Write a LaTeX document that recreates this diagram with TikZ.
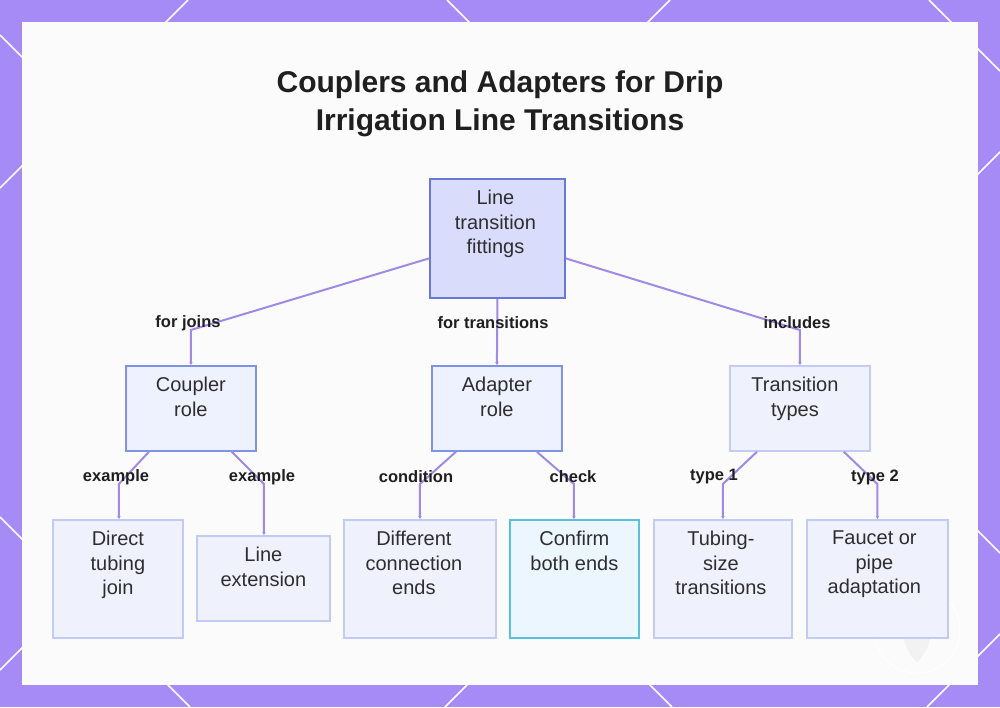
\documentclass[tikz,border=0pt]{standalone}
\usepackage{fontspec}
\setmainfont{Liberation Sans}
\usetikzlibrary{arrows.meta}
\definecolor{bgpurple}{HTML}{A68BF7}
\definecolor{panel}{HTML}{FBFBFB}
\definecolor{edgec}{HTML}{A08AE6}
\definecolor{rootfill}{HTML}{D9DCFB}
\definecolor{rootdraw}{HTML}{6A78D8}
\definecolor{midfill}{HTML}{EEF1FE}
\definecolor{middraw}{HTML}{7E92E6}
\definecolor{lightdraw}{HTML}{C3CAF3}
\definecolor{leaffill}{HTML}{EFF1FD}
\definecolor{cyandraw}{HTML}{5BC0DE}
\definecolor{cyanfill}{HTML}{EBF6FE}
\definecolor{txt}{HTML}{2E2E2E}
\definecolor{lbl}{HTML}{1F1F1F}
\tikzset{
  box/.style={rectangle, line width=1.8pt, inner sep=0pt, anchor=north west},
  rootbox/.style={box, draw=rootdraw, fill=rootfill},
  midbox/.style={box, draw=middraw, fill=midfill},
  lightbox/.style={box, draw=lightdraw, fill=leaffill},
  cyanbox/.style={box, draw=cyandraw, fill=cyanfill},
  boxtext/.style={anchor=north, inner sep=0pt, align=center, text=txt,
    font=\fontsize{20}{24.5}\selectfont},
  elabel/.style={inner sep=0pt, text=lbl, font=\fontsize{16.5}{20}\selectfont\bfseries},
  conn/.style={draw=edgec, line width=2pt, -{Stealth[length=3pt,width=3.5pt]}},
  lattice/.style={draw=white, line width=1.5pt}
}
\begin{document}
\begin{tikzpicture}[x=1pt,y=-1pt]
\useasboundingbox (0,0) rectangle (1000,707);
\fill[bgpurple] (0,0) rectangle (1000,707);
% diagonal lattice
\draw[lattice] (188,0) -- (0,188);
\draw[lattice] (670,0) -- (0,670);
\draw[lattice] (1000,152) -- (445,707);
\draw[lattice] (1000,634) -- (927,707);
\draw[lattice] (0,517) -- (190,707);
\draw[lattice] (0,35) -- (672,707);
\draw[lattice] (447,0) -- (1000,553);
\draw[lattice] (929,0) -- (1000,71);
% panel
\fill[panel] (22,22) rectangle (978,685);
% watermark
\draw[white, line width=1pt] (917,630) circle (43);
\fill[gray!10] (917,600) .. controls (935,620) and (935,645) .. (917,662) .. controls (899,645) and (899,620) .. (917,600) -- cycle;

% title
\node[font=\fontsize{30}{38}\selectfont\bfseries, text=lbl, align=center] (title) at (500,104) {Couplers and Adapters for Drip\\Irrigation Line Transitions};

% boxes
\node[rootbox, minimum width=135pt, minimum height=119pt] (root) at (429,178) {};
\node[boxtext] (roott) at ([yshift=-12pt,xshift=-2pt]root.north) {Line\\transition\\fittings};

\node[midbox, minimum width=130pt, minimum height=85pt] (cpl) at (125,365) {};
\node[boxtext] (cplt) at ([yshift=-12pt]cpl.north) {Coupler\\role};

\node[midbox, minimum width=130pt, minimum height=85pt] (adp) at (431,365) {};
\node[boxtext] (adpt) at ([yshift=-12pt]adp.north) {Adapter\\role};

\node[lightbox, minimum width=140pt, minimum height=85pt] (trt) at (729,365) {};
\node[boxtext] (trtt) at ([yshift=-12pt,xshift=-5pt]trt.north) {Transition\\types};

\node[lightbox, minimum width=130pt, minimum height=118pt] (dtj) at (52,519) {};
\node[boxtext] (dtjt) at ([yshift=-12pt]dtj.north) {Direct\\tubing\\join};

\node[lightbox, minimum width=133pt, minimum height=85pt] (lex) at (196,535) {};
\node[boxtext] (lext) at ([yshift=-12pt]lex.north) {Line\\extension};

\node[lightbox, minimum width=152pt, minimum height=118pt] (dce) at (343,519) {};
\node[boxtext] (dcet) at ([yshift=-12pt,xshift=-6pt]dce.north) {Different\\connection\\ends};

\node[cyanbox, minimum width=129pt, minimum height=118pt] (cbe) at (509,519) {};
\node[boxtext] (cbet) at ([yshift=-12pt]cbe.north) {Confirm\\both ends};

\node[lightbox, minimum width=138pt, minimum height=118pt] (tst) at (653,519) {};
\node[boxtext] (tstt) at ([yshift=-12pt,xshift=-2pt]tst.north) {Tubing-\\size\\transitions};

\node[lightbox, minimum width=141pt, minimum height=118pt] (fpa) at (806,519) {};
\node[boxtext] (fpat) at ([yshift=-12pt,xshift=-3pt]fpa.north) {Faucet or\\pipe\\adaptation};

% connectors level 1
\draw[conn] ([yshift=-20pt]root.west) -- ([yshift=35pt]cpl.north) -- (cpl.north);
\draw[conn] (root.south) -- (adp.north);
\draw[conn] ([yshift=-20pt]root.east) -- ([yshift=35pt]trt.north) -- (trt.north);
\node[elabel] (l1) at (188,323) {for joins};
\node[elabel] (l2) at (493,323) {for transitions};
\node[elabel] (l3) at (797,323) {includes};

% connectors level 2
\draw[conn] ([xshift=-42pt]cpl.south) -- ([yshift=35pt,xshift=1pt]dtj.north) -- ([xshift=1pt]dtj.north);
\draw[conn] ([xshift=41pt]cpl.south) -- ([yshift=51pt,xshift=0.5pt]lex.north) -- ([xshift=0.5pt]lex.north);
\draw[conn] ([xshift=-41pt]adp.south) -- ([yshift=35pt,xshift=0pt]dce.north) -- ([xshift=0pt]dce.north);
\draw[conn] ([xshift=40pt]adp.south) -- ([yshift=35pt,xshift=-0.5pt]cbe.north) -- ([xshift=-0.5pt]cbe.north);
\draw[conn] ([xshift=-43pt]trt.south) -- ([yshift=35pt]tst.north) -- (tst.north);
\draw[conn] ([xshift=44pt]trt.south) -- ([yshift=35pt]fpa.north) -- (fpa.north);
\node[elabel] (l4) at (116,477) {example};
\node[elabel] (l5) at (262,477) {example};
\node[elabel] (l6) at (416,477) {condition};
\node[elabel] (l7) at (573,477) {check};
\node[elabel] (l8) at (714,477) {type 1};
\node[elabel] (l9) at (875,477) {type 2};
\end{tikzpicture}
\end{document}
